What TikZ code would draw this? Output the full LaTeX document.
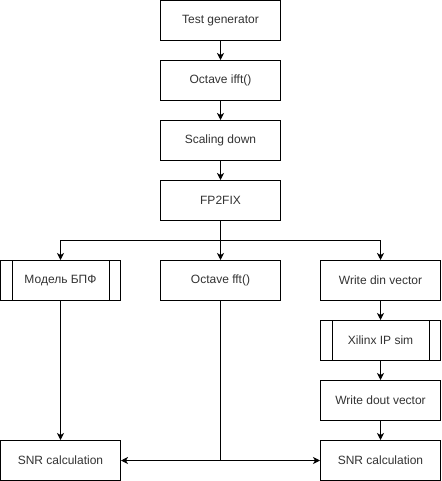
\documentclass[tikz,border=0pt]{standalone}
\usepackage{fontspec}
\setmainfont{Liberation Sans}
\usetikzlibrary{arrows.meta}
\begin{document}
\begin{tikzpicture}[x=1pt,y=-1pt,
  box/.style={draw=black,line width=1pt,fill=white,minimum width=120pt,minimum height=40pt,inner sep=0pt,font=\fontsize{12}{14}\selectfont,text=black!80},
  conn/.style={draw=black,line width=1pt,-{Stealth[length=7pt,width=7pt,inset=2pt]}},
  ln/.style={draw=black,line width=1pt}]
\useasboundingbox (0,0) rectangle (441,481);
\node[box] (tg) at (220.5,20.5) {Test generator};
\node[box] (ifft) at (220.5,80.5) {Octave ifft()};
\node[box] (sc) at (220.5,140.5) {Scaling down};
\node[box] (fp) at (220.5,200.5) {FP2FIX};
\node[box] (mod) at (60.5,280.5) {Модель БПФ};
\node[box] (fft) at (220.5,280.5) {Octave fft()};
\node[box] (din) at (380.5,280.5) {Write din vector};
\node[box] (xil) at (380.5,340.5) {Xilinx IP sim};
\node[box] (dout) at (380.5,400.5) {Write dout vector};
\node[box] (snr1) at (60.5,460.5) {SNR calculation};
\node[box] (snr2) at (380.5,460.5) {SNR calculation};
% inner lines of predefined process shapes
\draw[ln] ([xshift=12pt]mod.north west) -- ([xshift=12pt]mod.south west);
\draw[ln] ([xshift=-12pt]mod.north east) -- ([xshift=-12pt]mod.south east);
\draw[ln] ([xshift=12pt]xil.north west) -- ([xshift=12pt]xil.south west);
\draw[ln] ([xshift=-12pt]xil.north east) -- ([xshift=-12pt]xil.south east);
% connectors
\coordinate (sp) at (220.5,240.5);
\coordinate (jn) at (220.5,460.5);
\draw[conn] (tg) -- (ifft);
\draw[conn] (ifft) -- (sc);
\draw[conn] (sc) -- (fp);
\draw[ln] (fp.south) -- (sp);
\draw[conn] (sp) -| (mod.north);
\draw[conn] (sp) -- (fft.north);
\draw[conn] (sp) -| (din.north);
\draw[conn] (din) -- (xil);
\draw[conn] (xil) -- (dout);
\draw[conn] (dout) -- (snr2);
\draw[conn] (mod) -- (snr1);
\draw[ln] (fft.south) -- (jn);
\draw[conn] (jn) -- (snr1.east);
\draw[conn] (jn) -- (snr2.west);
\end{tikzpicture}
\end{document}
